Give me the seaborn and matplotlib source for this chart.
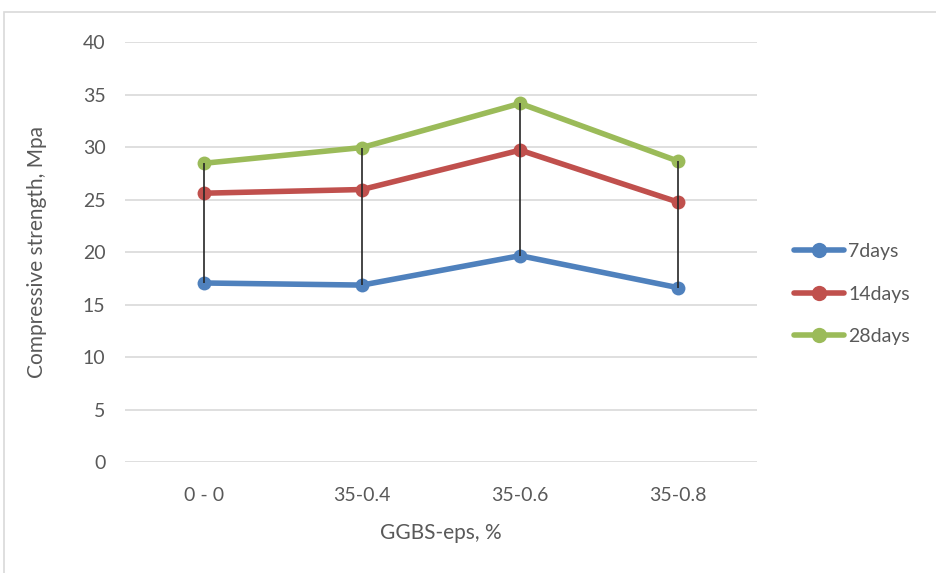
import matplotlib
matplotlib.use("Agg")
import matplotlib.pyplot as plt
import seaborn as sns
import pandas as pd
from matplotlib.patches import Rectangle

categories = ["0 - 0", "35-0.4", "35-0.6", "35-0.8"]
days_7 = [17.05, 16.85, 19.65, 16.6]
days_14 = [25.6, 25.95, 29.7, 24.75]
days_28 = [28.45, 29.95, 34.15, 28.65]
series_names = ["7days", "14days", "28days"]
colors = ["#4F81BD", "#C0504D", "#9BBB59"]

df = pd.DataFrame({"mix": categories, "7days": days_7, "14days": days_14, "28days": days_28})
long_df = df.melt(id_vars="mix", var_name="age", value_name="strength")
long_df["pos"] = long_df["mix"].map({c: i for i, c in enumerate(categories)})

sns.set_style("white")
plt.rcParams["font.family"] = ["Lato", "DejaVu Sans"]

fig = plt.figure(figsize=(9.36, 5.73), dpi=100)
ax = fig.add_axes([0.1335, 0.1937, 0.6755, 0.733])

sns.lineplot(data=long_df, x="pos", y="strength", hue="age", hue_order=series_names,
             palette=colors, marker="o", markersize=10, markeredgewidth=0,
             linewidth=4, ax=ax, legend=True)

# high-low lines
lows = df[series_names].min(axis=1)
highs = df[series_names].max(axis=1)
ax.vlines(range(len(categories)), lows, highs, color="#262626", linewidth=1.2, zorder=5)

ax.set_xlim(-0.5, len(categories) - 0.5)
ax.set_ylim(0, 40)
ax.set_yticks(range(0, 41, 5))
ax.set_xticks(range(len(categories)))
ax.set_xticklabels(categories)
ax.yaxis.grid(True, color="#D9D9D9", linewidth=1.2)
ax.set_axisbelow(True)
for s in ax.spines.values():
    s.set_visible(False)
ax.tick_params(axis="both", length=0, labelsize=14, colors="#595959", pad=14)
ax.tick_params(axis="x", pad=18)
ax.set_xlabel("GGBS-eps, %", fontsize=15, color="#595959", labelpad=14)
ax.set_ylabel("Compressive strength, Mpa", fontsize=15, color="#595959", labelpad=26)

leg = ax.legend(loc="center left", bbox_to_anchor=(1.03, 0.40), frameon=False,
                fontsize=14, handlelength=2.6, handletextpad=0.2, labelspacing=1.3,
                markerscale=1.1)
for t in leg.get_texts():
    t.set_color("#595959")

fig.patches.append(Rectangle((0.004, -0.01), 1.0, 0.989, transform=fig.transFigure,
                             fill=False, edgecolor="#D9D9D9", linewidth=1.2))

fig.savefig("out.png", dpi=100)
